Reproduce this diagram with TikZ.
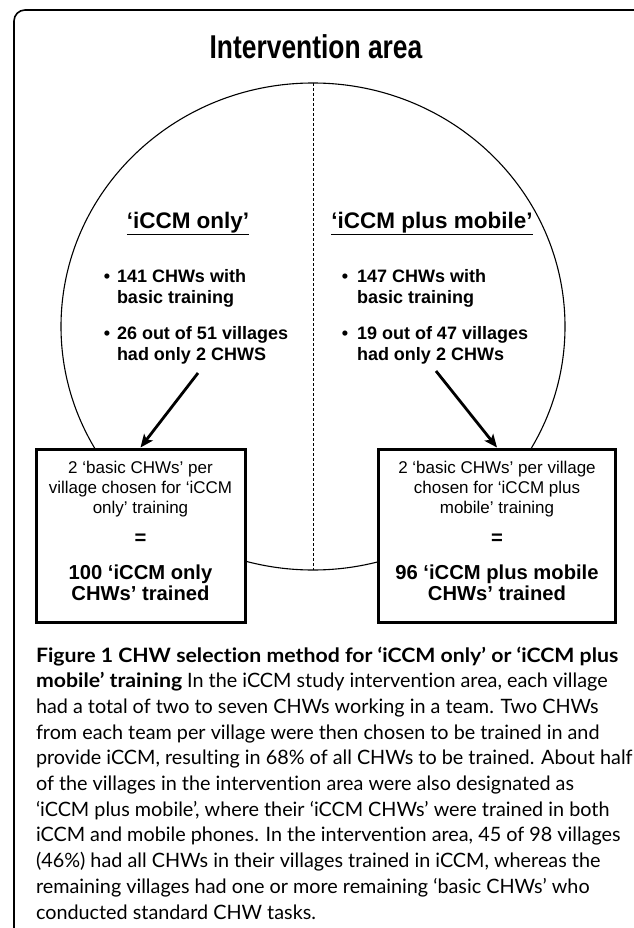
\documentclass[tikz,border=0pt]{standalone}
\usepackage{fontspec}
\usepackage{graphicx}
\setmainfont{Liberation Sans}
\newfontfamily\capfont[Ligatures=NoCommon]{Lato}
\newcommand\capbold[1]{\scalebox{1.074}[1]{\bfseries #1}}
\usetikzlibrary{arrows.meta}

\begin{document}
\begin{tikzpicture}[x=1pt,y=-1pt,
  frame/.style={line width=1.6pt, rounded corners=11pt},
  area/.style={line width=1.1pt},
  divider/.style={line width=0.9pt, dash pattern=on 3pt off 2pt},
  groupbox/.style={draw, line width=3pt, fill=white, minimum width=209pt,
    minimum height=173pt, inner sep=0pt},
  pick/.style={line width=2.8pt, -{Stealth[length=13pt,width=11pt,inset=3pt]}},
  txt/.style={inner sep=0pt, outer sep=0pt},
  heading/.style={txt, anchor=base, font=\fontsize{22.5}{26}\selectfont\bfseries},
  blt/.style={txt, anchor=base, font=\fontsize{18}{21}\selectfont\bfseries},
  bltline/.style={txt, anchor=base west, font=\fontsize{18}{21}\selectfont\bfseries},
  boxline/.style={txt, anchor=base, font=\fontsize{17}{20}\selectfont},
  boxbold/.style={txt, anchor=base, font=\fontsize{20.2}{23}\selectfont\bfseries},
  capline/.style={txt, anchor=base west, font=\capfont\fontsize{19.8}{25}\selectfont},
]
\useasboundingbox (0,0) rectangle (633,928);

% outer frame, open at the right and at the bottom
\draw[frame] (645,10) -- (14,10) -- (14,940);

% title
\node[txt, anchor=base, font=\fontsize{33}{36}\selectfont\bfseries] (title) at (316,59)
  {\scalebox{0.8}[1]{Intervention area}};

% intervention area split in two halves
\draw[area] (313,326.5) ellipse [x radius=252, y radius=243.5];
\coordinate (divtop) at (313,83);
\coordinate (divbot) at (313,570);
\draw[divider] (divtop) -- (divbot);

% left half
\node[heading] (lhead) at (188,228) {\underline{‘iCCM only’}};
\node[blt] (lb1) at (107,282) {•};
\node[bltline] (l1a) at (117,282) {141 CHWs with};
\node[bltline] (l1b) at (117,303) {basic training};
\node[blt] (lb2) at (107,339) {•};
\node[bltline] (l2a) at (117,339) {26 out of 51 villages};
\node[bltline] (l2b) at (117,360) {had only 2 CHWS};

% right half
\node[heading] (rhead) at (432,228) {\underline{‘iCCM plus mobile’}};
\node[blt] (rb1) at (345,282) {•};
\node[bltline] (r1a) at (357,282) {147 CHWs with};
\node[bltline] (r1b) at (357,303) {basic training};
\node[blt] (rb2) at (345,339) {•};
\node[bltline] (r2a) at (357,339) {19 out of 47 villages};
\node[bltline] (r2b) at (357,360) {had only 2 CHWs};

% selection boxes
\node[groupbox] (lbox) at (140.5,535.5) {};
\node[groupbox, minimum width=237pt] (rbox) at (497,535.5) {};

\node[boxline] (lt1) at (140.5,473) {2 ‘basic CHWs’ per};
\node[boxline] (lt2) at (140.5,493) {village chosen for ‘iCCM};
\node[boxline] (lt3) at (140.5,513) {only’ training};
\node[boxbold] (leq) at (140.5,544) {=};
\node[boxbold] (lt4) at (140.5,579) {100 ‘iCCM only};
\node[boxbold] (lt5) at (140.5,600) {CHWs’ trained};

\node[boxline] (rt1) at (497,473) {2 ‘basic CHWs’ per village};
\node[boxline] (rt2) at (497,493) {chosen for ‘iCCM plus};
\node[boxline] (rt3) at (497,513) {mobile’ training};
\node[boxbold] (req) at (497,544) {=};
\node[boxbold] (rt4) at (497,579) {96 ‘iCCM plus mobile};
\node[boxbold] (rt5) at (497,600) {CHWs’ trained};

% selection arrows
\coordinate (ltail) at (198,373);
\coordinate (rtail) at (436,371);
\draw[pick] (ltail) -- (lbox.north);
\draw[pick] (rtail) -- (rbox.north);

% caption
\node[capline] (c1) at (36,662) {\capbold{Figure 1 CHW selection method for ‘iCCM only’ or ‘iCCM plus}};
\node[capline] (c2) at (36,687.7) {\capbold{mobile’ training} In the iCCM study intervention area, each village};
\node[capline] (c3) at (36,713.4) {had a total of two to seven CHWs working in a team. Two CHWs};
\node[capline] (c4) at (36,739.1) {from each team per village were then chosen to be trained in and};
\node[capline] (c5) at (36,764.8) {provide iCCM, resulting in 68\% of all CHWs to be trained. About half};
\node[capline] (c6) at (36,790.5) {of the villages in the intervention area were also designated as};
\node[capline] (c7) at (36,816.2) {‘iCCM plus mobile’, where their ‘iCCM CHWs’ were trained in both};
\node[capline] (c8) at (36,841.9) {iCCM and mobile phones. In the intervention area, 45 of 98 villages};
\node[capline] (c9) at (36,867.6) {(46\%) had all CHWs in their villages trained in iCCM, whereas the};
\node[capline] (c10) at (36,893.3) {remaining villages had one or more remaining ‘basic CHWs’ who};
\node[capline] (c11) at (36,919) {conducted standard CHW tasks.};
\end{tikzpicture}
\end{document}
